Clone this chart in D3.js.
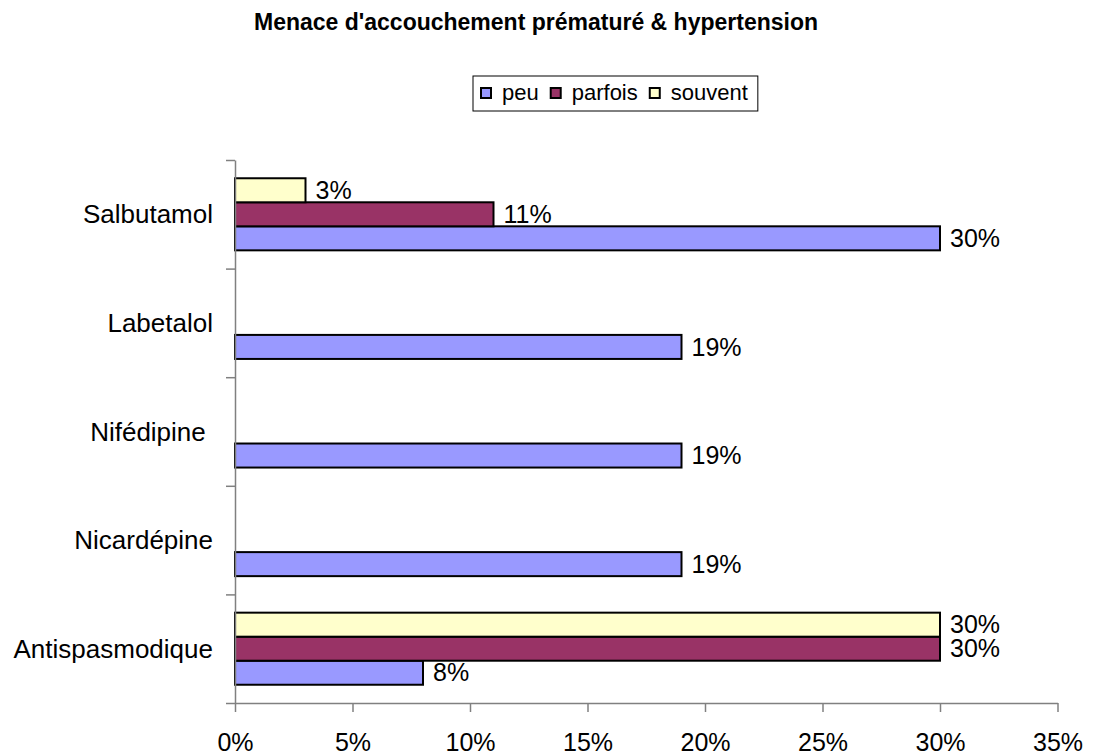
<!DOCTYPE html>
<html>
<head>
<meta charset="utf-8">
<script src="https://cdn.jsdelivr.net/npm/d3@7.9.0/dist/d3.min.js"></script>
<style>
  body { margin: 0; background: #fff; }
  svg { font-family: "Liberation Sans", Arial, sans-serif; }
</style>
</head>
<body>
<svg id="chart" width="1101" height="755"></svg>
<script>
// data
const categories = ['Salbutamol', 'Labetalol', 'Nifédipine ', 'Nicardépine', 'Antispasmodique'];
const seriesNames = ['peu', 'parfois', 'souvent'];
const peu = [0.30, 0.19, 0.19, 0.19, 0.08];
const parfois = [0.11, 0, 0, 0, 0.30];
const souvent = [0.03, 0, 0, 0, 0.30];
const xTicks = [0, 0.05, 0.10, 0.15, 0.20, 0.25, 0.30, 0.35];

const colors = { peu: '#9999ff', parfois: '#993366', souvent: '#ffffcc' };
const seriesValues = { peu, parfois, souvent };

const svg = d3.select('#chart');
const plotLeft = 235, plotRight = 1057.5, plotTop = 160, plotBottom = 703;

const x = d3.scaleLinear().domain([0, 0.35]).range([plotLeft, plotRight]);
const y0 = d3.scaleBand().domain(categories).range([plotTop, plotBottom]);
// souvent on top, peu at the bottom of each group
const y1 = d3.scaleBand().domain(['souvent', 'parfois', 'peu'])
  .range([0, y0.bandwidth()]).paddingOuter(0.76).paddingInner(0);

// title
svg.append('text')
  .attr('x', 536).attr('y', 30)
  .attr('text-anchor', 'middle')
  .attr('font-weight', 'bold')
  .attr('font-size', 23)
  .text("Menace d'accouchement prématuré & hypertension");

// legend
const legend = svg.append('g');
const legendBox = legend.append('rect')
  .attr('x', 473).attr('y', 76).attr('height', 35)
  .attr('fill', '#fff').attr('stroke', '#000').attr('stroke-width', 1);
let lx = 481;
seriesNames.forEach((s) => {
  legend.append('rect')
    .attr('x', lx).attr('y', 88).attr('width', 10).attr('height', 10)
    .attr('fill', colors[s]).attr('stroke', '#000').attr('stroke-width', 2);
  const t = legend.append('text')
    .attr('x', lx + 21).attr('y', 100)
    .attr('font-size', 22)
    .text(s);
  lx += 21 + t.node().getComputedTextLength() + 12;
});
legendBox.attr('width', lx - 2 - 473);

// bars
seriesNames.forEach((s) => {
  const vals = seriesValues[s];
  const g = svg.append('g');
  categories.forEach((c, i) => {
    if (vals[i] <= 0) return;
    const yb = y0(c) + y1(s);
    g.append('rect')
      .attr('x', x(0)).attr('y', yb)
      .attr('width', x(vals[i]) - x(0)).attr('height', y1.bandwidth())
      .attr('fill', colors[s]).attr('stroke', '#000').attr('stroke-width', 2);
    g.append('text')
      .attr('x', x(vals[i]) + 10)
      .attr('y', yb + y1.bandwidth() / 2)
      .attr('dy', '0.35em')
      .attr('font-size', 25)
      .text(d3.format('.0%')(vals[i]));
  });
});

// y axis (ticks at band boundaries)
const yIdx = d3.scaleLinear().domain([0, categories.length]).range([plotTop, plotBottom]);
const yAxis = svg.append('g')
  .attr('transform', `translate(${plotLeft},0)`)
  .call(d3.axisLeft(yIdx).tickValues(d3.range(categories.length + 1)).tickFormat('').tickSize(9).tickSizeOuter(0));

// category labels
categories.forEach((c) => {
  svg.append('text')
    .attr('x', 213)
    .attr('y', y0(c) + y0.bandwidth() / 2)
    .attr('dy', '0.35em')
    .attr('text-anchor', 'end')
    .attr('font-size', 26)
    .style('white-space', 'pre')
    .text(c);
});

// x axis
const xAxis = svg.append('g')
  .attr('transform', `translate(0,${plotBottom})`)
  .call(d3.axisBottom(x).tickValues(xTicks).tickFormat(d3.format('.0%')).tickSize(9).tickSizeOuter(0).tickPadding(21));
xAxis.selectAll('text').attr('font-size', 25).attr('fill', '#000');
xAxis.attr('font-family', null);

[xAxis, yAxis].forEach((a) => {
  a.select('.domain').attr('stroke', '#808080').attr('stroke-width', 1.5);
  a.selectAll('.tick line').attr('stroke', '#808080').attr('stroke-width', 1.5);
});
</script>
</body>
</html>
